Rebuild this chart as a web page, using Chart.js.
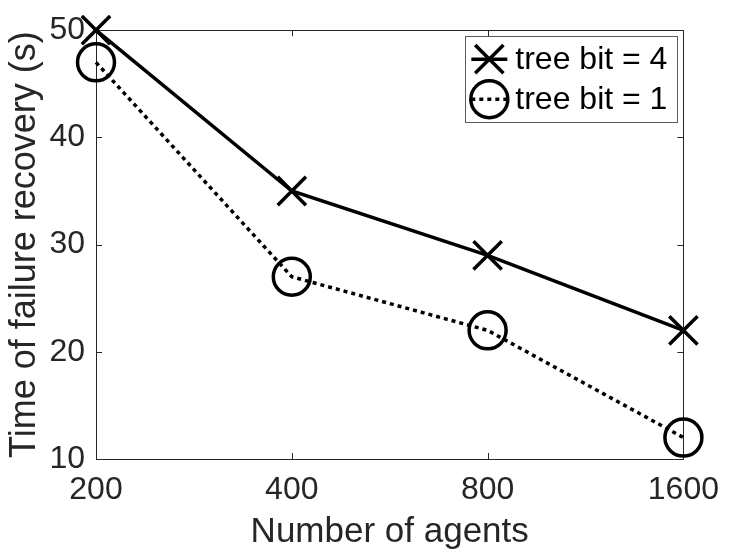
<!DOCTYPE html>
<html lang="en">
<head>
    <meta charset="UTF-8">
    <title>Failure recovery time</title>
    <script src="https://cdn.jsdelivr.net/npm/chart.js"></script>
    <style>
        body {
            margin: 0;
            padding: 0;
            background: white;
        }
        #chart {
            display: block;
        }
    </style>
</head>
<body>
    <canvas id="chart" width="731" height="550"></canvas>

    <script>
        // Data
        const agentCounts = ['200', '400', '800', '1600'];
        const treeBit4 = [50, 35, 29, 22];
        const treeBit1 = [47, 27, 22, 12];
        const yTicks = [10, 20, 30, 40, 50];

        const FONT = '"Liberation Sans", Arial, Helvetica, sans-serif';
        const AXIS_COLOR = '#262626';

        // Box around the plot area with inward tick marks on all four sides
        const boxPlugin = {
            id: 'box',
            beforeDatasetsDraw(chart) {
                const { ctx, chartArea: a, scales } = chart;
                const tick = 6;
                ctx.save();
                ctx.strokeStyle = AXIS_COLOR;
                ctx.lineWidth = 1;
                ctx.beginPath();
                scales.x.ticks.forEach((t, i) => {
                    const x = Math.round(scales.x.getPixelForTick(i)) + 0.5;
                    ctx.moveTo(x, a.bottom);
                    ctx.lineTo(x, a.bottom - tick);
                    ctx.moveTo(x, a.top);
                    ctx.lineTo(x, a.top + tick);
                });
                scales.y.ticks.forEach((t, i) => {
                    const y = Math.round(scales.y.getPixelForTick(i)) + 0.5;
                    ctx.moveTo(a.left, y);
                    ctx.lineTo(a.left + tick, y);
                    ctx.moveTo(a.right, y);
                    ctx.lineTo(a.right - tick, y);
                });
                ctx.stroke();
                ctx.strokeRect(Math.round(a.left) + 0.5, Math.round(a.top) + 0.5,
                    Math.round(a.right - a.left), Math.round(a.bottom - a.top));
                ctx.restore();
            }
        };

        // Legend in the top-right corner, line sample drawn through the marker
        const legendPlugin = {
            id: 'boxLegend',
            afterDatasetsDraw(chart) {
                const { ctx, chartArea: a } = chart;
                const sets = chart.data.datasets;
                const rowH = 40;
                const sampleW = 36;
                ctx.save();
                ctx.font = '32px ' + FONT;
                const textW = Math.max(...sets.map(d => ctx.measureText(d.label).width));
                const w = 6 + sampleW + 8 + textW + 10;
                const h = rowH * sets.length + 6;
                const right = a.right - 6;
                const left = right - w;
                const top = a.top + 6;

                ctx.fillStyle = 'white';
                ctx.fillRect(left, top, w, h);
                ctx.strokeStyle = '#5a5a5a';
                ctx.lineWidth = 1;
                ctx.strokeRect(Math.round(left) + 0.5, Math.round(top) + 0.5, Math.round(w), Math.round(h));

                sets.forEach((d, i) => {
                    const cy = top + 3 + rowH * i + rowH / 2;
                    const cx = left + 6 + sampleW / 2;
                    ctx.strokeStyle = d.borderColor;
                    ctx.lineWidth = d.borderWidth;
                    ctx.setLineDash(d.borderDash || []);
                    ctx.beginPath();
                    ctx.moveTo(left + 6, cy);
                    ctx.lineTo(left + 6 + sampleW, cy);
                    ctx.stroke();
                    ctx.setLineDash([]);
                    // hollow marker, same style as on the plot
                    ctx.fillStyle = 'rgba(0,0,0,0)';
                    ctx.strokeStyle = d.pointBorderColor;
                    ctx.lineWidth = d.pointBorderWidth;
                    Chart.helpers.drawPoint(ctx, {
                        pointStyle: d.pointStyle,
                        radius: d.pointRadius,
                        borderWidth: d.pointBorderWidth,
                        rotation: 0
                    }, cx, cy);
                    ctx.fillStyle = 'black';
                    ctx.textBaseline = 'middle';
                    ctx.textAlign = 'left';
                    ctx.fillText(d.label, left + 6 + sampleW + 8, cy + 1);
                });
                ctx.restore();
            }
        };

        new Chart(document.getElementById('chart'), {
            type: 'line',
            data: {
                labels: agentCounts,
                datasets: [{
                    label: 'tree bit = 4',
                    data: treeBit4,
                    borderColor: 'black',
                    borderWidth: 3.5,
                    pointStyle: 'crossRot',
                    pointRadius: 20,
                    pointBorderWidth: 3.5,
                    pointBorderColor: 'black',
                    pointBackgroundColor: 'transparent',
                    fill: false,
                    tension: 0,
                    clip: false
                }, {
                    label: 'tree bit = 1',
                    data: treeBit1,
                    borderColor: 'black',
                    borderWidth: 3.5,
                    borderDash: [4, 4],
                    pointStyle: 'circle',
                    pointRadius: 18.5,
                    pointBorderWidth: 3.5,
                    pointBorderColor: 'black',
                    pointBackgroundColor: 'transparent',
                    fill: false,
                    tension: 0,
                    clip: false
                }]
            },
            options: {
                responsive: false,
                animation: false,
                devicePixelRatio: 1,
                layout: {
                    padding: { top: 19, right: 40, left: 0, bottom: 0 }
                },
                plugins: {
                    legend: { display: false },
                    tooltip: { enabled: false }
                },
                scales: {
                    x: {
                        type: 'category',
                        offset: false,
                        grid: { display: false, drawTicks: false },
                        border: { display: false },
                        ticks: {
                            color: AXIS_COLOR,
                            font: { family: FONT, size: 32 },
                            padding: 12,
                            maxRotation: 0
                        },
                        title: {
                            display: true,
                            text: 'Number of agents',
                            color: AXIS_COLOR,
                            font: { family: FONT, size: 35, lineHeight: 1 },
                            padding: 0
                        },
                        afterFit(scale) { scale.height = 91; }
                    },
                    y: {
                        min: 10,
                        max: 50,
                        grid: { display: false, drawTicks: false },
                        border: { display: false },
                        afterBuildTicks(scale) {
                            scale.ticks = yTicks.map(v => ({ value: v }));
                        },
                        ticks: {
                            color: AXIS_COLOR,
                            font: { family: FONT, size: 32 },
                            padding: 11
                        },
                        title: {
                            display: true,
                            text: 'Time of failure recovery (s)',
                            color: AXIS_COLOR,
                            font: { family: FONT, size: 36, lineHeight: 1 },
                            padding: { top: 7, bottom: 0 }
                        },
                        afterFit(scale) { scale.width = 96; }
                    }
                }
            },
            plugins: [boxPlugin, legendPlugin]
        });
    </script>
</body>
</html>
